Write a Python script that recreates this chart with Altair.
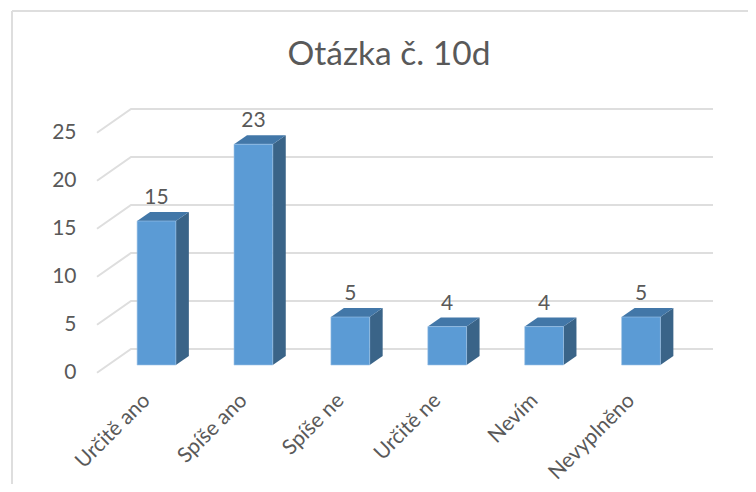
import altair as alt
import pandas as pd

categories = ["Určitě ano", "Spíše ano", "Spíše ne", "Určitě ne", "Nevím", "Nevyplněno"]
values = [15, 23, 5, 4, 4, 5]
y_ticks = [0, 5, 10, 15, 20, 25]

TEXT = "#595959"
FONT = "Lato"
GRID = "#dedede"
HALF = 0.2      # half of a bar's front, in category units
DX = 0.134      # depth of the 3D box, in category units
DY = 0.94       # depth of the 3D box, in value units
BASE = 0.8      # lift of the bars' front above the floor's front edge
WALL = 2.47     # lift of the back wall above the floor's front edge
X0, XB, XE = -0.614, -0.263, 5.743   # floor front, wall start, wall end

W, H = 740, 476
PX = 96.9
PY = 9.6
x_scale = alt.Scale(domain=[-148.5 / PX, (W - 148.5) / PX], range=[0, W], nice=False, zero=False)
y_scale = alt.Scale(domain=[(364.7 - H) / PY, 364.7 / PY], range=[H, 0], nice=False, zero=False)

front = pd.DataFrame([
    {"a": i - HALF, "b": i + HALF, "lo": BASE, "hi": BASE + v} for i, v in enumerate(values)
])
side = pd.DataFrame([
    row for i, v in enumerate(values) for row in (
        {"i": i, "x": i + HALF, "hi": BASE + v, "lo": BASE},
        {"i": i, "x": i + HALF + DX, "hi": BASE + v + DY, "lo": BASE + DY},
    )
])
top = pd.DataFrame([
    row for i, v in enumerate(values) for row in (
        {"i": i, "y": BASE + v, "a": i - HALF, "b": i + HALF},
        {"i": i, "y": BASE + v + DY, "a": i - HALF + DX, "b": i + HALF + DX},
    )
])
grid = pd.DataFrame([
    row for t in y_ticks for row in (
        {"t": t, "o": 0, "x": X0, "y": t},
        {"t": t, "o": 1, "x": XB, "y": t + WALL},
        {"t": t, "o": 2, "x": XE, "y": t + WALL},
    )
])
labels = pd.DataFrame({
    "i": range(len(values)),
    "y": [BASE + v + DY for v in values],
    "v": values,
})

label_expr = "[" + ",".join(f"'{c}'" for c in categories) + "][datum.value]"
x_axis = alt.Axis(
    orient="bottom", offset=-91, values=list(range(6)), labelExpr=label_expr, title=None,
    domain=False, ticks=False, grid=False, labelAngle=-45, labelAlign="right",
    labelBaseline="middle", labelFont=FONT, labelFontSize=21, labelColor=TEXT, labelPadding=4,
    labelOffset=-10, labelOverlap=False, labelFlush=False)
y_axis = alt.Axis(
    orient="left", offset=-68, values=y_ticks, title=None, domain=False, ticks=False, grid=False,
    labelFont=FONT, labelFontSize=21, labelColor=TEXT, labelPadding=0)

X = lambda f: alt.X(f, type="quantitative", scale=x_scale, axis=x_axis)
Y = lambda f: alt.Y(f, type="quantitative", scale=y_scale, axis=y_axis)

grid_layer = alt.Chart(grid).mark_line(color=GRID, strokeWidth=2).encode(
    x=X("x"), y=Y("y"), detail="t:N", order="o:Q"
)
side_layer = alt.Chart(side).mark_area(color="#3a6488", opacity=1).encode(
    x=X("x"), y=Y("hi"), y2="lo:Q", detail="i:N"
)
top_layer = alt.Chart(top).mark_area(color="#4277a8", opacity=1, orient="horizontal").encode(
    y=Y("y"), x=X("a"), x2="b:Q", detail="i:N"
)
front_layer = alt.Chart(front).mark_rect(color="#5b9bd5", stroke="#9dc3e6", strokeWidth=0.6).encode(
    x=X("a"), x2="b:Q", y=Y("lo"), y2="hi:Q"
)
text_layer = alt.Chart(labels).mark_text(
    font=FONT, fontSize=21, color=TEXT, dy=-14, baseline="middle", align="center"
).encode(x=X("i"), y=Y("y"), text="v:Q")

frame_data = pd.DataFrame({"k": [0]})
frame_top = alt.Chart(frame_data).mark_rule(color=GRID, strokeWidth=2).encode(
    x=alt.value(4), x2=alt.value(748), y=alt.value(3)
)
frame_left = alt.Chart(frame_data).mark_rule(color=GRID, strokeWidth=2).encode(
    x=alt.value(4), y=alt.value(3), y2=alt.value(476)
)
title = alt.Chart(pd.DataFrame({"t": ["Otázka č. 10d"]})).mark_text(
    font=FONT, fontSize=33.5, color=TEXT, align="center", baseline="middle"
).encode(x=alt.value(381), y=alt.value(47), text="t:N")

chart = alt.layer(
    frame_top, frame_left, title, grid_layer, side_layer, top_layer, front_layer, text_layer
).properties(
    width=W, height=H, padding=0, autosize=alt.AutoSizeParams(type="none")
).configure_view(stroke=None)

chart.save("out.html", embed_options={"renderer": "svg", "actions": False})
